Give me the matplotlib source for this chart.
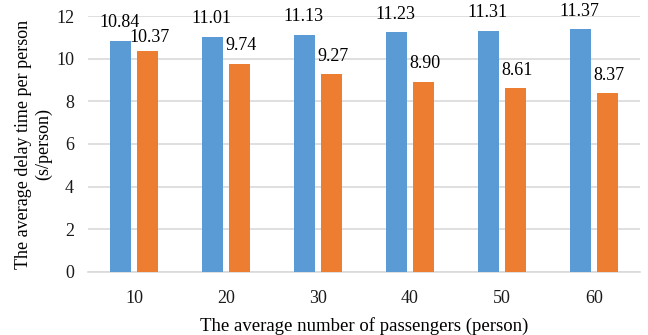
import matplotlib
matplotlib.use("Agg")
import matplotlib.pyplot as plt
import numpy as np

# data
passengers = ["10", "20", "30", "40", "50", "60"]
delay_a = [10.84, 11.01, 11.13, 11.23, 11.31, 11.37]
delay_b = [10.37, 9.74, 9.27, 8.90, 8.61, 8.37]
yticks = [0, 2, 4, 6, 8, 10, 12]

blue = "#5B9BD5"
orange = "#ED7D31"
grid = "#D9D9D9"

plt.rcParams["font.family"] = ["Liberation Serif", "DejaVu Serif"]
plt.rcParams["font.size"] = 13

fig = plt.figure(figsize=(6.48, 3.35), dpi=100)
ax = fig.add_axes([88 / 648, 1 - 272 / 335, 552 / 648, 256 / 335])

x = np.arange(len(passengers))
w = 0.228
off = 0.147
bars_a = ax.bar(x - off, delay_a, w, color=blue, zorder=3)
bars_b = ax.bar(x + off, delay_b, w, color=orange, zorder=3)

for b, v in zip(bars_a, delay_a):
    ax.annotate(f"{v:.2f}", (b.get_x() + b.get_width() / 2 - 0.01, v),
                xytext=(0, 7), textcoords="offset points",
                ha="center", va="bottom", fontsize=13)
for i, (b, v) in enumerate(zip(bars_b, delay_b)):
    dy = 3.5 if i == 0 else 7
    ax.annotate(f"{v:.2f}", (b.get_x() + b.get_width() / 2 + 0.02, v),
                xytext=(0, dy), textcoords="offset points",
                ha="center", va="bottom", fontsize=13)

ax.set_xlim(-0.5, len(passengers) - 0.5)
ax.set_ylim(0, 12)
ax.set_yticks(yticks)
ax.set_xticks(x)
ax.set_xticklabels(passengers)
ax.yaxis.grid(True, color=grid, linewidth=1.2, zorder=0)
ax.set_axisbelow(True)
for s in ["top", "right", "left"]:
    ax.spines[s].set_visible(False)
ax.spines["bottom"].set_color(grid)
ax.spines["bottom"].set_linewidth(1.2)
ax.tick_params(length=0, labelsize=13, colors="#1a1a1a")
ax.tick_params(axis="x", pad=13)
ax.tick_params(axis="y", pad=10)

ax.set_ylabel("The average delay time per person\n(s/person)", fontsize=13, labelpad=3)
ax.set_xlabel("The average number of passengers (person)", fontsize=13.5, labelpad=7)

fig.savefig("out.png", dpi=100)
